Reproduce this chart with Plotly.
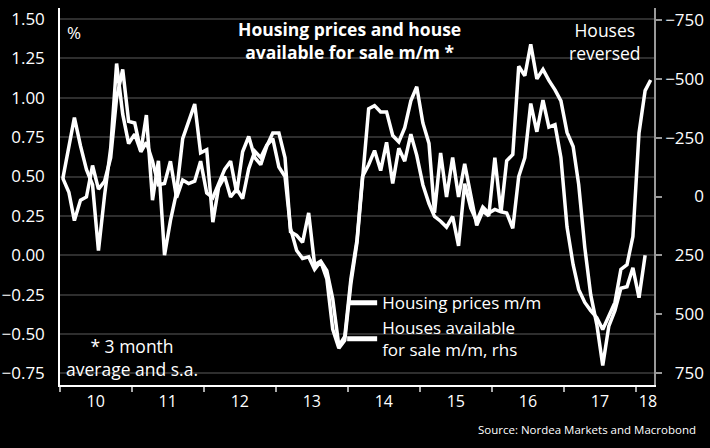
import pandas as pd
import plotly.graph_objects as go

# Housing prices m/m, % (3m avg, s.a.), monthly from Jan 2010
prices = [0.49, 0.40, 0.22, 0.35, 0.37, 0.57, 0.42, 0.47, 0.62, 1.00, 1.18, 0.85,
          0.84, 0.66, 0.89, 0.35, 0.60, 0.00, 0.22, 0.40, 0.74, 0.85, 0.96, 0.65,
          0.67, 0.21, 0.43, 0.50, 0.37, 0.42, 0.36, 0.55, 0.66, 0.62, 0.70, 0.74,
          0.56, 0.50, 0.17, 0.03, -0.02, -0.01, -0.09, -0.04, -0.15, -0.47, -0.59, -0.54,
          -0.18, 0.08, 0.50, 0.93, 0.95, 0.91, 0.91, 0.76, 0.72, 0.81, 0.98, 1.07,
          0.84, 0.71, 0.27, 0.65, 0.37, 0.62, 0.37, 0.58, 0.38, 0.19, 0.28, 0.25,
          0.62, 0.27, 0.60, 0.64, 1.20, 1.14, 1.34, 1.12, 1.18, 1.11, 1.05, 0.98,
          0.78, 0.69, 0.45, 0.05, -0.25, -0.44, -0.70, -0.45, -0.35, -0.21, -0.20, -0.08,
          -0.27, 0.00]

# Houses available for sale m/m (rhs, reversed), monthly from Jan 2010
houses = [-75, -215, -335, -215, -115, -50, 230, -5, -205, -565, -350, -225,
          -265, -190, -230, -150, -50, -55, -150, 5, -70, -55, -65, -150,
          -15, 5, -50, -115, -150, -15, -190, -255, -165, -135, -215, -270,
          -270, -165, 150, 165, 195, 70, 290, 275, 315, 435, 635, 595,
          350, 185, -85, -135, -195, -110, -230, -55, -205, -150, -265, -175,
          -50, 30, 85, 105, 130, 85, 210, -55, 50, 105, 45, 70,
          55, 65, 70, 135, -85, -165, -395, -275, -410, -295, -305, -165,
          130, 290, 395, 450, 485, 515, 565, 505, 450, 310, 290, 170,
          -270, -450, -495]

year_labels = ["10", "11", "12", "13", "14", "15", "16", "17", "18"]
label_dates = ["2010-07-01", "2011-07-01", "2012-07-01", "2013-07-01", "2014-07-01",
               "2015-07-01", "2016-07-01", "2017-07-01", "2018-03-01"]
left_ticks = [-0.75, -0.5, -0.25, 0, 0.25, 0.5, 0.75, 1.0, 1.25, 1.5]
right_ticks = [-750, -500, -250, 0, 250, 500, 750]
right_text = ["\u2212750", "\u2212500", "\u2212250", "\u2007\u2007\u20070",
              "\u2007250", "\u2007500", "\u2007750"]

FONT = "Open Sans"

d_p = pd.date_range("2010-01-01", periods=len(prices), freq="MS") + pd.Timedelta(days=14)
d_h = pd.date_range("2010-01-01", periods=len(houses), freq="MS") + pd.Timedelta(days=14)

fig = go.Figure()
fig.add_trace(go.Scatter(x=d_p, y=prices, mode="lines", name="Housing prices m/m",
                         line=dict(color="white", width=3.5)))
fig.add_trace(go.Scatter(x=d_h, y=houses, mode="lines", yaxis="y2",
                         name="Houses available<br>for sale m/m, rhs",
                         line=dict(color="white", width=3.5)))

fig.update_layout(
    width=710, height=448, autosize=False,
    margin=dict(l=60, r=56, t=8, b=63, autoexpand=False),
    paper_bgcolor="black", plot_bgcolor="black",
    font=dict(family=FONT, color="white", size=16),
    showlegend=True,
    legend=dict(x=0.475, y=0.265, xanchor="left", yanchor="top",
                bgcolor="rgba(0,0,0,0)", font=dict(size=17, color="white"),
                tracegroupgap=0, itemsizing="constant"),
    xaxis=dict(type="date", range=["2010-01-01", "2018-04-01"], automargin=False,
               tickmode="array", tickvals=label_dates, ticktext=year_labels,
               ticks="", showgrid=False, zeroline=False,
               showline=True, linecolor="white", linewidth=1.5,
               tickfont=dict(size=16, color="white"), ticklabelstandoff=1,
               minor=dict(tickmode="linear", tick0="2010-01-01", dtick="M12",
                          ticks="outside", ticklen=5, tickcolor="#aaaaaa",
                          tickwidth=1.5, showgrid=False)),
    yaxis=dict(range=[-0.824, 1.57], tickmode="array", tickvals=left_ticks,
               automargin=False,
               tickformat=".2f", ticks="", showgrid=True, gridcolor="#2e2e2e",
               gridwidth=1.5, zeroline=False, showline=True, linecolor="white",
               linewidth=1.5, tickfont=dict(size=17, color="white"),
               ticklabelstandoff=10),
    yaxis2=dict(range=[801, -801], overlaying="y", side="right", automargin=False,
                tickmode="array", tickvals=right_ticks, ticktext=right_text,
                ticks="outside", ticklen=6, tickcolor="#999999", tickwidth=1.5,
                showgrid=False, zeroline=False, showline=True,
                linecolor="#999999", linewidth=1.5,
                tickfont=dict(size=17, color="white")),
    annotations=[
        dict(text="<b>Housing prices and house<br>available for sale m/m *</b>",
             xref="paper", yref="paper", x=0.488, y=0.915, xanchor="center",
             yanchor="middle", showarrow=False, font=dict(size=17.5, color="white")),
        dict(text="%", xref="paper", yref="paper", x=0.0085, y=0.935,
             xanchor="left", yanchor="middle", showarrow=False,
             font=dict(size=17, color="white")),
        dict(text="Houses<br>reversed", xref="paper", yref="paper", x=0.918,
             y=0.912, xanchor="center", yanchor="middle", showarrow=False,
             font=dict(size=17.5, color="white")),
        dict(text="* 3 month<br>average and s.a.", xref="paper", yref="paper",
             x=0.121, y=0.074, xanchor="center", yanchor="middle",
             showarrow=False, font=dict(size=17.5, color="white")),
        dict(text="Source: Nordea Markets and Macrobond", xref="paper",
             yref="paper", x=1.074, y=-0.117, xanchor="right", yanchor="middle",
             showarrow=False, font=dict(size=11.5, color="white")),
    ],
)

fig.write_html("out.html")
